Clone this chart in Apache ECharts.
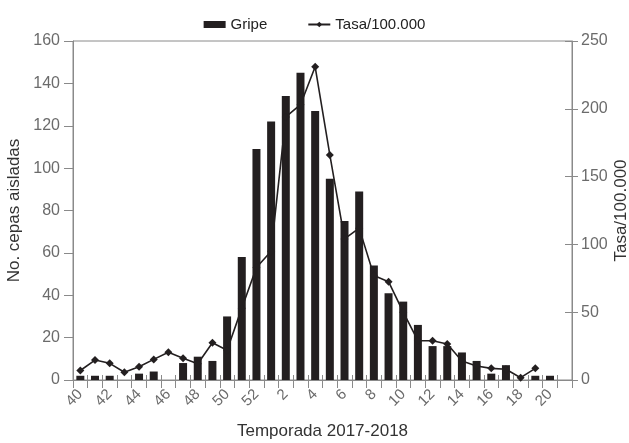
<!DOCTYPE html>
<html>
<head>
<meta charset="utf-8">
<script src="https://cdn.jsdelivr.net/npm/echarts@6/dist/echarts.min.js"></script>
<style>
html,body{margin:0;padding:0;background:#fff;}
#c{width:629px;height:443px;}
</style>
</head>
<body>
<div id="c"></div>
<script>
// Weeks of the 2017-2018 season (last slot is an empty week)
var weeks = ['40','41','42','43','44','45','46','47','48','49','50','51','52',
  '1','2','3','4','5','6','7','8','9','10','11','12','13','14','15','16','17','18','19','20','21'];
// No. cepas aisladas (Gripe)
var gripe = [2,2,2,0,3,4,0,8,11,9,30,58,109,
  122,134,145,127,95,75,89,54,41,37,26,16,16,13,9,3,7,0,2,2,null];
// Tasa/100.000
var tasa = [7,14.7,12.3,5.7,9.8,15.2,20.4,16,12,27.5,22,53,83,
  95,194,203,231,166,104,112,77,72.5,50,29,29,26.5,14,10.3,8.6,7.9,1.7,8.6,null,null];
var leftTicks = {min:0, max:160, interval:20};
var rightTicks = {min:0, max:250, interval:50};

var FONT = 'Liberation Sans';
var axisGray = '#8a8a8a';
var labelGray = '#6b6b6b';
var chart = echarts.init(document.getElementById('c'), null, {renderer:'canvas'});
chart.setOption({
  animation:false,
  backgroundColor:'#fff',
  textStyle:{fontFamily:FONT},
  legend:{
    left:'center', top:12,
    itemWidth:22, itemHeight:7, itemGap:40,
    textStyle:{fontFamily:FONT, fontSize:15, color:'#222'},
    data:[{name:'Gripe', icon:'rect'}, {name:'Tasa/100.000'}]
  },
  grid:{left:73, right:57, top:41, bottom:63, outerBoundsMode:'none', containLabel:false,
        show:true, borderColor:axisGray, borderWidth:1},
  xAxis:[{
    type:'category', data:weeks, boundaryGap:true,
    name:'Temporada 2017-2018', nameLocation:'middle', nameGap:43,
    nameTextStyle:{fontFamily:FONT, fontSize:17, color:'#333'},
    axisLine:{lineStyle:{color:axisGray, width:1}},
    axisTick:{show:true, interval:0, length:8, lineStyle:{color:axisGray}},
    axisLabel:{interval:1, rotate:45, margin:12, fontFamily:FONT, fontSize:15, color:labelGray}
  },{
    type:'category', data:weeks, boundaryGap:true, position:'bottom',
    axisLine:{show:false},
    axisTick:{show:true, inside:true, interval:0, length:5, lineStyle:{color:axisGray}},
    axisLabel:{show:false}
  }],
  yAxis:[{
    type:'value', min:leftTicks.min, max:leftTicks.max, interval:leftTicks.interval,
    name:'No. cepas aisladas', nameLocation:'middle', nameGap:49, nameRotate:90,
    nameTextStyle:{fontFamily:FONT, fontSize:17, color:'#333'},
    axisLine:{show:true, lineStyle:{color:axisGray}},
    axisTick:{show:true, length:9, lineStyle:{color:axisGray}},
    axisLabel:{fontFamily:FONT, fontSize:16, color:labelGray, margin:13},
    splitLine:{show:false}
  },{
    type:'value', position:'right', min:rightTicks.min, max:rightTicks.max, interval:rightTicks.interval,
    name:'Tasa/100.000', nameLocation:'middle', nameGap:41, nameRotate:90, nameMoveOverlap:false,
    nameTextStyle:{fontFamily:FONT, fontSize:17, color:'#333'},
    axisLine:{show:true, lineStyle:{color:axisGray}},
    axisTick:{show:true, length:6, lineStyle:{color:axisGray}},
    axisLabel:{fontFamily:FONT, fontSize:16, color:labelGray, margin:9},
    splitLine:{show:false}
  },{
    type:'value', position:'right', min:rightTicks.min, max:rightTicks.max, interval:rightTicks.interval,
    axisLine:{show:false},
    axisTick:{show:true, inside:true, length:7, lineStyle:{color:axisGray}},
    axisLabel:{show:false},
    splitLine:{show:false}
  }],
  series:[{
    name:'Gripe', type:'bar', data:gripe, barWidth:8,
    xAxisIndex:0, yAxisIndex:0,
    itemStyle:{color:'#231f20'}
  },{
    name:'Tasa/100.000', type:'line', data:tasa,
    xAxisIndex:0, yAxisIndex:1, z:3,
    symbol:'diamond', symbolSize:8, showSymbol:true,
    lineStyle:{color:'#231f20', width:1.6},
    itemStyle:{color:'#231f20'}
  }]
});
</script>
</body>
</html>
